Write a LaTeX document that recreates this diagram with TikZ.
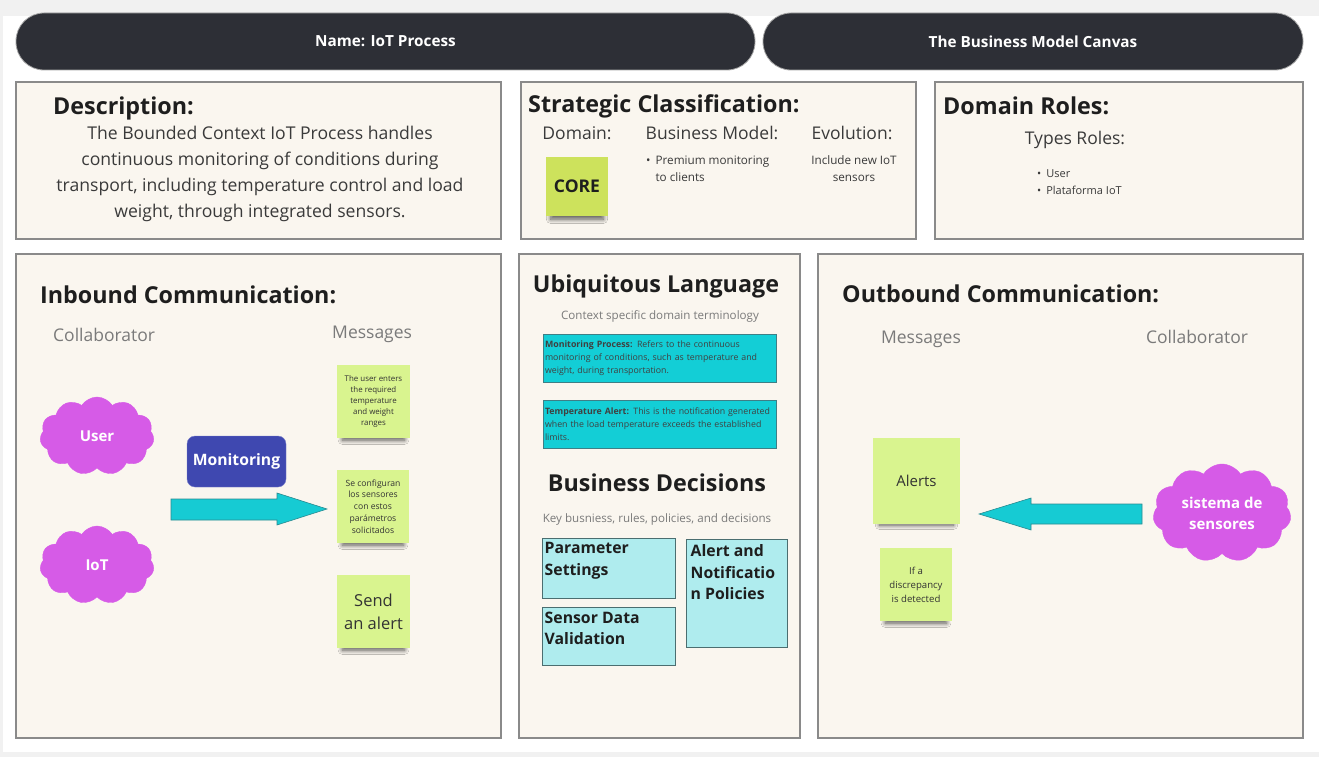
\documentclass[tikz,border=0pt]{standalone}
\usepackage{fontspec}
\setmainfont{Open Sans}
\usetikzlibrary{shapes.symbols,shadows.blur}

\definecolor{pagegray}{HTML}{F1F1F1}
\definecolor{pillfill}{HTML}{2D2F36}
\definecolor{panelfill}{HTML}{FAF6EF}
\definecolor{panelline}{HTML}{8A8A8A}
\definecolor{headtext}{HTML}{1E1E1E}
\definecolor{bodytext}{HTML}{3A3A3A}
\definecolor{softtext}{HTML}{7A7A7A}
\definecolor{corenote}{HTML}{CDE25C}
\definecolor{notegreen}{HTML}{D9F48F}
\definecolor{notetext}{HTML}{333333}
\definecolor{cloudpink}{HTML}{D65BE7}
\definecolor{monitorblue}{HTML}{3F48B0}
\definecolor{arrowcyan}{HTML}{16CBD3}
\definecolor{arrowedge}{HTML}{2A8A90}
\definecolor{termcyan}{HTML}{13CED6}
\definecolor{termedge}{HTML}{3E7F86}
\definecolor{rulecyan}{HTML}{AFECEE}
\definecolor{ruleedge}{HTML}{4B6E70}

\newcommand\fsz[2]{\fontsize{#1}{#2}\selectfont}

\tikzset{
  pill/.style={fill=pillfill, draw=gray!70, line width=0.8pt, rounded corners=28pt,
    text=white, font=\fsz{15.3}{18}\bfseries, inner sep=0pt},
  panel/.style={fill=panelfill, draw=panelline, line width=1.4pt, inner sep=0pt},
  heading/.style={text=headtext, font=\fsz{23.3}{27}\bfseries, inner sep=0pt, anchor=base west},
  subhead/.style={text=softtext, font=\fsz{17.5}{21}, inner sep=0pt, anchor=base},
  label16/.style={text=bodytext, font=\fsz{17.5}{21}, inner sep=0pt, anchor=base},
  small/.style={text=bodytext, font=\fsz{11.7}{17}, inner sep=0pt},
  sticky/.style={fill=notegreen, inner sep=1pt, align=center, text=notetext,
    blur shadow={shadow xshift=0pt, shadow yshift=-9pt, shadow scale=0.85,
      shadow opacity=65, shadow blur radius=5pt, shadow blur steps=14}},
  collab/.style={cloud, cloud puffs=11, cloud puff arc=115, aspect=1.5,
    fill=cloudpink, draw=cloudpink, text=white, font=\fsz{15}{21}\bfseries,
    inner sep=0pt, align=center},
  blockarrow/.style={fill=arrowcyan, draw=arrowedge, line width=0.6pt, line join=miter},
  termbox/.style={fill=termcyan, draw=termedge, line width=1pt, inner sep=2pt,
    text width=229pt, minimum height=48pt, align=left, text=headtext!85,
    font=\fsz{8.8}{13}},
  rulebox/.style={fill=rulecyan, draw=ruleedge, line width=1pt, inner sep=0pt},
  ruletext/.style={text=headtext, font=\fsz{15.8}{21.5}\bfseries, inner sep=0pt,
    align=left, anchor=north west},
}

\begin{document}
\begin{tikzpicture}[x=1pt,y=-1pt]
\useasboundingbox (0,0) rectangle (1319,757);
\fill[pagegray] (0,0) rectangle (1319,757);
\fill[white] (3,16) rectangle (1319,752);

% title bar
\node[pill, minimum width=739pt, minimum height=57pt] (name) at (385.5,41.5) {Name: IoT Process};
\node[pill, minimum width=540pt, minimum height=57pt] (bmc) at (1033,41.5) {The Business Model Canvas};

% panels
\node[panel, minimum width=485pt, minimum height=157pt] (desc) at (258.5,160.5) {};
\node[panel, minimum width=395pt, minimum height=157pt] (strat) at (718.5,160.5) {};
\node[panel, minimum width=368pt, minimum height=157pt] (roles) at (1119,160.5) {};
\node[panel, minimum width=485pt, minimum height=484pt] (inb) at (258.5,496) {};
\node[panel, minimum width=281pt, minimum height=484pt] (ubiq) at (659.5,496) {};
\node[panel, minimum width=485pt, minimum height=484pt] (outb) at (1060.5,496) {};

% description (base anchor = baseline of the last line)
\node[heading] (deschead) at (53,114) {Description:};
\node[text=bodytext, font=\fsz{17.6}{25.7}, align=center, inner sep=0pt, anchor=base] (desctext) at (260,217)
  {The Bounded Context IoT Process handles\\continuous monitoring of conditions during\\transport, including temperature control and load\\weight, through integrated sensors.};

% strategic classification
\node[heading] (strathead) at (528,113) {Strategic Classification:};
\node[label16] (domlbl) at (577,139.5) {Domain:};
\node[label16] (bmlbl) at (712,139.5) {Business Model:};
\node[label16] (evolbl) at (852,139.5) {Evolution:};
\node[sticky, fill=corenote, minimum width=62pt, minimum height=59pt, text=headtext,
  font=\fsz{17.5}{20}\bfseries] (core) at (577,186.5) {CORE};
\node[small, align=left, anchor=base west] (bmtext) at (646,181.5)
  {\textbullet\hspace{5pt}Premium monitoring\\\hphantom{\textbullet\hspace{5pt}}to clients};
\node[small, align=center, anchor=base] (evotext) at (854,181.5)
  {Include new IoT\\sensors};

% domain roles
\node[heading] (roleshead) at (943,114) {Domain Roles:};
\node[label16] (typeslbl) at (1075,145) {Types Roles:};
\node[small, align=left, anchor=base west, font=\fsz{11}{17}] (rolelist) at (1037,194)
  {\textbullet\hspace{5pt}User\\\textbullet\hspace{5pt}Plataforma IoT};

% inbound communication
\node[heading] (inbhead) at (40,303) {Inbound Communication:};
\node[subhead, anchor=base west] (inbcollab) at (53,341) {Collaborator};
\node[subhead, anchor=base west] (inbmsg) at (332,338) {Messages};
\node[collab, minimum width=114pt, minimum height=78pt] (user) at (97,436) {User};
\node[collab, minimum width=114pt, minimum height=78pt] (iot) at (97,565) {IoT};
\node[fill=monitorblue, draw=monitorblue!70!white, rounded corners=8pt, minimum width=99pt,
  minimum height=51pt, text=white, font=\fsz{15.7}{18}\bfseries, inner sep=0pt] (monitor) at (236.5,461.5) {Monitoring};
\node[sticky, minimum width=73pt, minimum height=73pt, font=\fsz{7.9}{11}] (msg1) at (373.5,401.5)
  {The user enters\\the required\\temperature\\and weight\\ranges};
\node[sticky, minimum width=72pt, minimum height=73pt, font=\fsz{8.6}{11.8}] (msg2) at (373,506.5)
  {Se configuran\\los sensores\\con estos\\parámetros\\solicitados};
\node[sticky, minimum width=73pt, minimum height=73pt, font=\fsz{16.5}{23}] (msg3) at (373.5,611.5)
  {Send\\an alert};

% block arrow towards the messages
\coordinate (ia1) at (171,499);
\coordinate (ia2) at (277,499);
\coordinate (ia3) at (277,493);
\coordinate (iatip) at (327,509);
\coordinate (ia4) at (277,525);
\coordinate (ia5) at (277,520);
\coordinate (ia6) at (171,520);
\draw[blockarrow] (ia1) -- (ia2) -- (ia3) -- (iatip) -- (ia4) -- (ia5) -- (ia6) -- cycle;

% ubiquitous language
\node[heading, anchor=base] (ubiqhead) at (656,292) {Ubiquitous Language};
\node[text=softtext, font=\fsz{11.6}{14}, inner sep=0pt] (ubiqsub) at (660,316) {Context specific domain terminology};
\node[termbox] (term1) at (659.5,358)
  {\textbf{Monitoring Process:} Refers to the continuous\\monitoring of conditions, such as temperature and\\weight, during transportation.};
\node[termbox] (term2) at (659.5,424)
  {\textbf{Temperature Alert:} This is the notification generated\\when the load temperature exceeds the established\\limits.};
\node[heading, anchor=base] (decihead) at (657,491) {Business Decisions};
\node[text=softtext, font=\fsz{11.6}{14}, inner sep=0pt] (decisub) at (657,519) {Key busniess, rules, policies, and decisions};
\node[rulebox, minimum width=133pt, minimum height=60pt] (param) at (608.5,568) {};
\node[rulebox, minimum width=133pt, minimum height=58pt] (sensor) at (608.5,636) {};
\node[rulebox, minimum width=101pt, minimum height=108pt] (alertpol) at (736.5,593) {};
\node[ruletext] (paramtext) at ([xshift=3pt,yshift=-5pt]param.north west) {Parameter\\Settings};
\node[ruletext] (sensortext) at ([xshift=3pt,yshift=-5pt]sensor.north west) {Sensor Data\\Validation};
\node[ruletext] (alerttext) at ([xshift=5pt,yshift=-6pt]alertpol.north west) {Alert and\\Notificatio\\n Policies};

% outbound communication
\node[heading] (outhead) at (842,302) {Outbound Communication:};
\node[subhead] (outmsg) at (921,343) {Messages};
\node[subhead] (outcollab) at (1197,343) {Collaborator};
\node[sticky, minimum width=87pt, minimum height=86pt, font=\fsz{15}{18}] (alerts) at (916.5,481) {Alerts};
\node[sticky, minimum width=72pt, minimum height=73pt, font=\fsz{9.6}{14}] (discrep) at (916,584.5)
  {If a\\discrepancy\\is detected};
\node[collab, minimum width=138pt, minimum height=98pt] (sensors) at (1222,513) {sistema de\\sensores};

% block arrow from the sensor system towards the alerts
\coordinate (oa1) at (1142,504);
\coordinate (oa2) at (1031,504);
\coordinate (oa3) at (1031,498);
\coordinate (oatip) at (979,514);
\coordinate (oa4) at (1031,530);
\coordinate (oa5) at (1031,524);
\coordinate (oa6) at (1142,524);
\draw[blockarrow] (oa1) -- (oa2) -- (oa3) -- (oatip) -- (oa4) -- (oa5) -- (oa6) -- cycle;
\end{tikzpicture}
\end{document}
